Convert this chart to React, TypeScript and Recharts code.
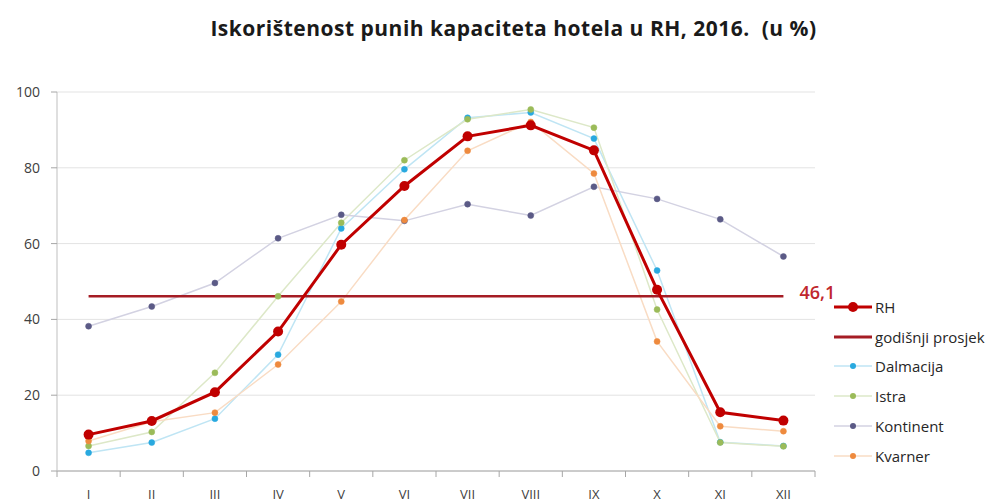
import React from 'react';
import { LineChart, Line, XAxis, YAxis, CartesianGrid } from 'recharts';

// Mjeseci
const months = ['I', 'II', 'III', 'IV', 'V', 'VI', 'VII', 'VIII', 'IX', 'X', 'XI', 'XII'];

// Iskorištenost po regijama (u %)
const rh = [9.6, 13.2, 20.8, 36.8, 59.7, 75.2, 88.3, 91.2, 84.6, 47.8, 15.5, 13.3];
const dalmacija = [4.8, 7.5, 13.8, 30.7, 64.0, 79.6, 93.2, 94.6, 87.7, 52.9, 7.6, 6.6];
const istra = [6.6, 10.3, 25.9, 46.1, 65.5, 82.0, 92.8, 95.4, 90.6, 42.6, 7.5, 6.5];
const kontinent = [38.2, 43.4, 49.6, 61.4, 67.6, 66.0, 70.4, 67.4, 75.0, 71.8, 66.4, 56.6];
const kvarner = [7.9, 13.0, 15.4, 28.1, 44.7, 66.2, 84.5, 92.1, 78.5, 34.2, 11.8, 10.5];
const prosjek = 46.1;

const yTicks = [0, 20, 40, 60, 80, 100];

const data = months.map((m, i) => ({
  month: m,
  rh: rh[i],
  prosjek: prosjek,
  dalmacija: dalmacija[i],
  istra: istra[i],
  kontinent: kontinent[i],
  kvarner: kvarner[i],
}));

const FONT = '"Open Sans", "Liberation Sans", sans-serif';

const CHART_W = 999;
const CHART_H = 503;
const MARGIN = { top: 92, right: 184, bottom: 2, left: 12 };
const Y_WIDTH = 45;
const PLOT_W = CHART_W - MARGIN.left - MARGIN.right - Y_WIDTH;
const BAND = PLOT_W / months.length;

// regije: boja točke, boja linije
const regions = [
  { key: 'dalmacija', name: 'Dalmacija', dot: '#29a9df', line: '#bfe5f4' },
  { key: 'istra', name: 'Istra', dot: '#9bbb59', line: '#dde8c8' },
  { key: 'kontinent', name: 'Kontinent', dot: '#5b5a86', line: '#d3d2e2' },
  { key: 'kvarner', name: 'Kvarner', dot: '#ee8a3e', line: '#f9dcc4' },
];

// eslint-disable-next-line @typescript-eslint/no-explicit-any
const MonthTick = ({ x, y, payload, index }: any) => (
  <g>
    <line x1={x - BAND / 2} x2={x - BAND / 2} y1={y - 8} y2={y - 2} stroke="#a6a6a6" />
    {index === months.length - 1 && (
      <line x1={x + BAND / 2} x2={x + BAND / 2} y1={y - 8} y2={y - 2} stroke="#a6a6a6" />
    )}
    <text x={x} y={y + 20} textAnchor="middle" fontSize={13} fill="#404040" fontFamily={FONT}>
      {payload.value}
    </text>
  </g>
);

// eslint-disable-next-line @typescript-eslint/no-explicit-any
const avgLabel = (props: any) => {
  if (props.index !== months.length - 1) return <g />;
  return (
    <text x={props.x + 16} y={props.y + 3} fontSize={18} fontWeight={600} fill="#c0262d" fontFamily={FONT}>
      46,1
    </text>
  );
};

const Legend = () => {
  const items = [
    { name: 'RH', color: '#c00000', width: 3, dot: 5, dotColor: '#c00000' },
    { name: 'godišnji prosjek', color: '#a51c24', width: 3, dot: 0, dotColor: '' },
    ...regions.map((r) => ({ name: r.name, color: r.line, width: 1.5, dot: 3, dotColor: r.dot })),
  ];
  return (
    <div style={{ position: 'absolute', left: 834, top: 292 }}>
      {items.map((it) => (
        <div key={it.name} style={{ display: 'flex', alignItems: 'center', height: 29.8 }}>
          <svg width={40} height={12}>
            <line x1={0} x2={38} y1={6} y2={6} stroke={it.color} strokeWidth={it.width} />
            {it.dot > 0 && <circle cx={19} cy={6} r={it.dot} fill={it.dotColor} />}
          </svg>
          <span style={{ fontFamily: FONT, fontSize: 15, color: '#262626', marginLeft: 1 }}>{it.name}</span>
        </div>
      ))}
    </div>
  );
};

export default function App() {
  return (
    <div style={{ position: 'fixed', left: 0, top: 0, width: CHART_W, height: CHART_H, background: '#fff' }}>
      <div
        style={{
          position: 'absolute',
          left: 195,
          width: 637,
          top: 14,
          textAlign: 'center',
          fontFamily: FONT,
          fontWeight: 700,
          fontSize: 21,
          letterSpacing: 0.5,
          color: '#1a1a1a',
          whiteSpace: 'pre',
        }}
      >
        {'Iskorištenost punih kapaciteta hotela u RH, 2016.  (u %)'}
      </div>
      <LineChart width={CHART_W} height={CHART_H} data={data} margin={MARGIN}>
        <CartesianGrid vertical={false} stroke="#e3e3e3" />
        <XAxis
          dataKey="month"
          height={30}
          padding={{ left: BAND / 2, right: BAND / 2 }}
          axisLine={{ stroke: '#a6a6a6' }}
          tickLine={false}
          tick={<MonthTick />}
          interval={0}
        />
        <YAxis
          domain={[0, 100]}
          ticks={yTicks}
          width={Y_WIDTH}
          axisLine={{ stroke: '#bfbfbf' }}
          tickLine={{ stroke: '#a6a6a6' }}
          tickSize={6}
          tick={{ fontSize: 14, fill: '#404040', fontFamily: FONT, dx: -9 }}
        />
        {regions.map((r) => (
          <Line
            key={r.key}
            dataKey={r.key}
            name={r.name}
            stroke={r.line}
            strokeWidth={1.5}
            dot={{ r: 3, fill: r.dot, stroke: r.dot, strokeWidth: 0.5 }}
            activeDot={false}
            isAnimationActive={false}
          />
        ))}
        <Line
          dataKey="prosjek"
          name="godišnji prosjek"
          stroke="#a51c24"
          strokeWidth={2.5}
          dot={false}
          activeDot={false}
          label={avgLabel}
          isAnimationActive={false}
        />
        <Line
          dataKey="rh"
          name="RH"
          stroke="#c00000"
          strokeWidth={3}
          dot={{ r: 5, fill: '#c00000', stroke: '#c00000', strokeWidth: 0 }}
          activeDot={false}
          isAnimationActive={false}
        />
      </LineChart>
      <Legend />
    </div>
  );
}
